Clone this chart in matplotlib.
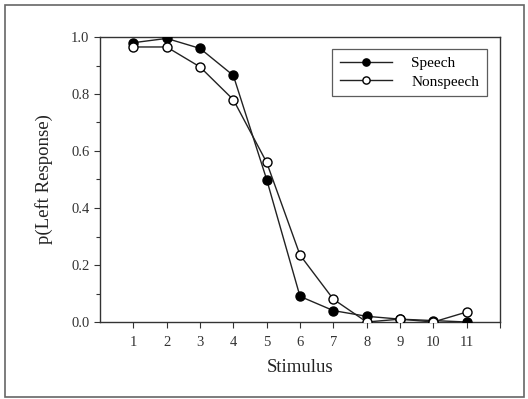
import matplotlib
matplotlib.use("Agg")
import matplotlib.pyplot as plt
from matplotlib.patches import Rectangle
from matplotlib.ticker import MultipleLocator

stimulus = [1, 2, 3, 4, 5, 6, 7, 8, 9, 10, 11]
speech = [0.98, 0.995, 0.96, 0.865, 0.50, 0.09, 0.04, 0.02, 0.01, 0.005, 0.0]
nonspeech = [0.965, 0.965, 0.895, 0.78, 0.56, 0.235, 0.08, 0.0, 0.01, 0.0, 0.035]
xtick_labels = ["1", "2", "3", "4", "5", "6", "7", "8", "9", "10", "11"]

plt.rcParams['font.family'] = ['Liberation Serif', 'DejaVu Serif']

fig = plt.figure(figsize=(5.28, 3.99), dpi=100)
ax = fig.add_axes([100/528, 1-322/399, 400/528, 285/399])

ax.plot(stimulus, speech, color='#222222', lw=1.0, marker='o', ms=6.5,
        mfc='black', mec='black', label='Speech', zorder=3)
ax.plot(stimulus, nonspeech, color='#222222', lw=1.0, marker='o', ms=6.5,
        mfc='white', mec='black', mew=1.0, label='Nonspeech', zorder=3)

ax.set_xlim(0, 12)
ax.set_ylim(0, 1.0)
ax.set_xticks(list(range(1, 13)))
ax.set_xticklabels(xtick_labels + [""])
ax.yaxis.set_minor_locator(MultipleLocator(0.1))
ax.set_yticks([0, 0.2, 0.4, 0.6, 0.8, 1.0])
ax.set_yticklabels([f"{v:.1f}" for v in [0, 0.2, 0.4, 0.6, 0.8, 1.0]])
ax.tick_params(axis='both', which='both', direction='out', length=4, width=0.8,
               labelsize=10.5, colors='#333333', top=False, right=False)
ax.tick_params(axis='y', which='minor', length=3)
ax.tick_params(axis='x', pad=6)
for s in ax.spines.values():
    s.set_color('#333333')
    s.set_linewidth(1.0)

ax.set_xlabel('Stimulus', fontsize=13.5, color='#222222', labelpad=7)
ax.set_ylabel('p(Left Response)', fontsize=13.5, color='#222222', labelpad=13)

leg = ax.legend(loc='upper right', bbox_to_anchor=(487/528, 1-49/399),
                bbox_transform=fig.transFigure, fontsize=11, frameon=True,
                fancybox=False, edgecolor='#333333', borderpad=0.5,
                handlelength=3.4, labelspacing=0.3, handletextpad=1.3,
                borderaxespad=0, markerscale=0.8)
leg.get_frame().set_linewidth(0.9)

fig.patches.append(Rectangle((5/528, 2/399), 519/528, 392/399, transform=fig.transFigure,
                             fill=False, edgecolor='#666666', lw=1.2))

fig.savefig('out.png', dpi=100)
